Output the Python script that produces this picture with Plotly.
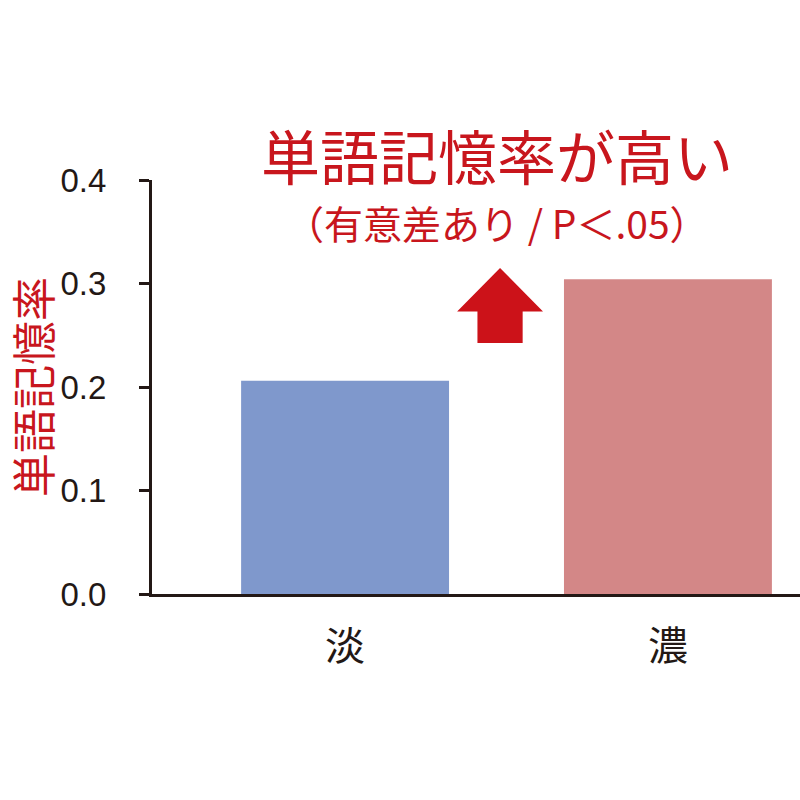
import plotly.graph_objects as go

categories = ["淡", "濃"]
values = [0.206, 0.304]
bar_colors = ["#7f98cc", "#d38787"]
y_ticks = [0.0, 0.1, 0.2, 0.3, 0.4]
y_tick_labels = ["0.0", "0.1", "0.2", "0.3", "0.4"]
y_title = "単語記憶率"
headline = "単語記憶率が高い"
subline = "（有意差あり / P＜.05）"

RED = "#c8161d"
INK = "#231815"
JP = "Noto Sans CJK JP"

fig = go.Figure()
fig.add_trace(go.Bar(
    x=[0, 1], y=values, marker=dict(color=bar_colors, line=dict(width=0)),
    width=0.644, showlegend=False, hoverinfo="skip"))

fig.update_layout(
    width=800, height=800,
    margin=dict(l=152, r=0, t=180, b=206),
    paper_bgcolor="white", plot_bgcolor="white",
    font=dict(family=JP, color=INK),
    xaxis=dict(range=[-0.598, 1.409], tickmode="array", tickvals=[0, 1], ticktext=categories,
               showline=True, linecolor=INK, linewidth=3, showgrid=False, zeroline=False,
               ticks="outside", ticklen=15, tickcolor="rgba(0,0,0,0)", automargin=False,
               tickfont=dict(family=JP, size=40, color=INK)),
    yaxis=dict(range=[0, 0.4], tickmode="array", tickvals=y_ticks, ticktext=y_tick_labels,
               showline=True, linecolor=INK, linewidth=3, showgrid=False, zeroline=False,
               ticks="outside", ticklen=10, tickwidth=3, tickcolor=INK,
               ticklabelstandoff=26, automargin=False,
               tickfont=dict(family="Liberation Sans", size=33, color=INK),
               title=dict(text=y_title, standoff=22,
                          font=dict(family=JP, size=44, color=RED))),
)

# headline
fig.add_annotation(text=headline, xref="paper", yref="paper", x=(497 - 152) / 648, y=(594 - 155) / 414,
                   xanchor="center", yanchor="middle", showarrow=False,
                   font=dict(family=JP, size=59, color=RED))
fig.add_annotation(text=subline, xref="paper", yref="paper", x=(497 - 152) / 648, y=(594 - 222) / 414,
                   xanchor="center", yanchor="middle", showarrow=False,
                   font=dict(family=JP, size=39, color=RED))

# upward arrow (data coordinates)
cx, hw, sw = 0.48, 0.133, 0.07
tip, base, bottom = 0.315, 0.273, 0.2425
path = (f"M {cx-sw},{bottom} L {cx+sw},{bottom} L {cx+sw},{base} L {cx+hw},{base} "
        f"L {cx},{tip} L {cx-hw},{base} L {cx-sw},{base} Z")
fig.add_shape(type="path", path=path, xref="x", yref="y", fillcolor="#cc1219",
              line=dict(width=0), layer="above")

fig.write_html("out.html", config={"displayModeBar": False},
               post_script="document.body.style.margin='0';")
